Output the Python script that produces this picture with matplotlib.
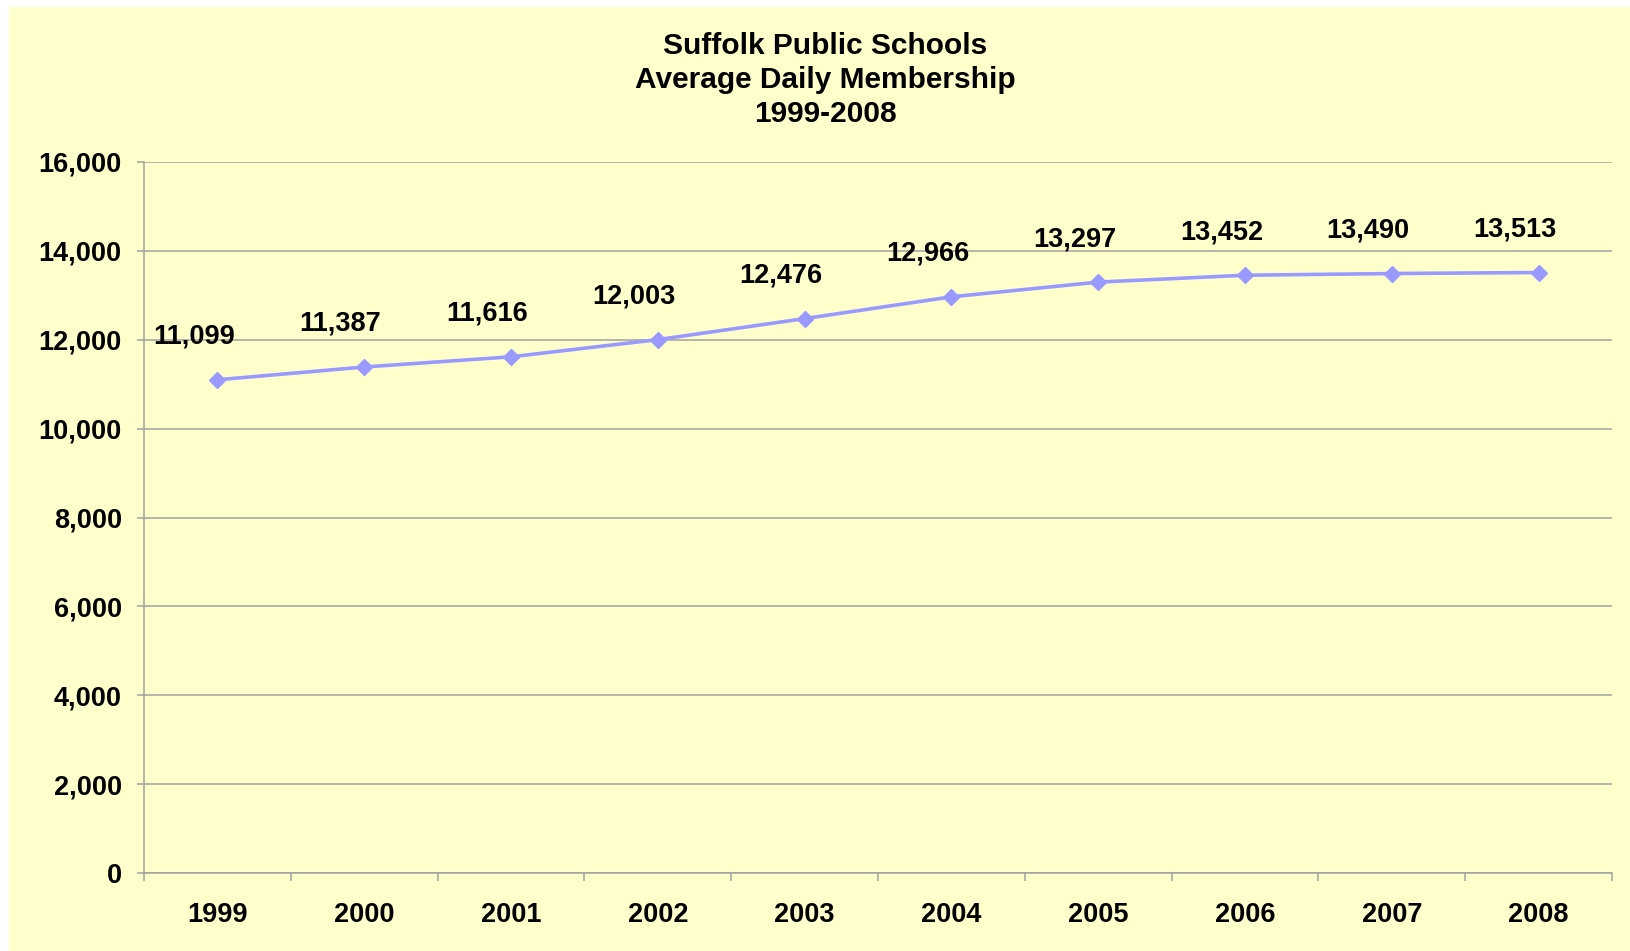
import numpy as np
import matplotlib
matplotlib.use("Agg")
import matplotlib.pyplot as plt
from matplotlib.patches import Rectangle
from matplotlib.ticker import FuncFormatter, FixedLocator

years = ["1999", "2000", "2001", "2002", "2003", "2004", "2005", "2006", "2007", "2008"]
membership = [11099, 11387, 11616, 12003, 12476, 12966, 13297, 13452, 13490, 13513]
title_lines = ["Suffolk Public Schools", "Average Daily Membership", "1999-2008"]

plt.rcParams['font.family'] = ['Liberation Sans', 'DejaVu Sans']
plt.rcParams['font.weight'] = 'bold'

W, H = 1631, 951
fig = plt.figure(figsize=(W / 100, H / 100), dpi=100, facecolor="white")
# yellow chart area
bg = Rectangle((9 / W, 0), 1 - 9 / W, 1 - 7 / H, transform=fig.transFigure,
               facecolor="#FFFFCC", edgecolor="none", zorder=-5)
fig.add_artist(bg)

ax = fig.add_axes([144 / W, 1 - 873 / H, (1612 - 144) / W, (873 - 162) / H])
ax.set_zorder(1)
ax.patch.set_alpha(0)

x = np.arange(len(years))
ax.plot(x, membership, color="#9999FF", lw=2.6, marker="D", ms=8, mec="#9999FF", zorder=3)

for xi, v in zip(x, membership):
    ax.annotate(f"{v:,}", (xi, v), xytext=(-17, 31), textcoords="offset points",
                ha="center", va="center", fontsize=19.5, fontweight="bold")

ax.set_xlim(-0.5, len(years) - 0.5)
ax.set_ylim(0, 16000)
ax.set_yticks(np.arange(0, 16001, 2000))
ax.yaxis.set_major_formatter(FuncFormatter(lambda v, p: f"{int(v):,}"))
ax.grid(axis="y", color="#A0A0A0", lw=1.1)
ax.set_axisbelow(True)

ax.xaxis.set_major_locator(FixedLocator(np.arange(-0.5, len(years), 1.0)))
ax.xaxis.set_minor_locator(FixedLocator(x))
ax.set_xticklabels([])
ax.set_xticklabels(years, minor=True)
ax.tick_params(axis="x", which="major", length=6, width=1.1, color="#A0A0A0", direction="out")
ax.tick_params(axis="x", which="minor", length=0, pad=21, labelsize=19.5)
ax.tick_params(axis="y", length=5, width=1.1, color="#A0A0A0", pad=11, labelsize=19.5)

for s in ["top", "right"]:
    ax.spines[s].set_visible(False)
for s in ["left", "bottom"]:
    ax.spines[s].set_color("#A0A0A0")
    ax.spines[s].set_linewidth(1.1)

fig.text(825 / W, 1 - 80 / H, "\n".join(title_lines), ha="center", va="center",
         fontsize=21.5, fontweight="bold", linespacing=1.27)

fig.savefig("out.png", dpi=100, facecolor="white")
